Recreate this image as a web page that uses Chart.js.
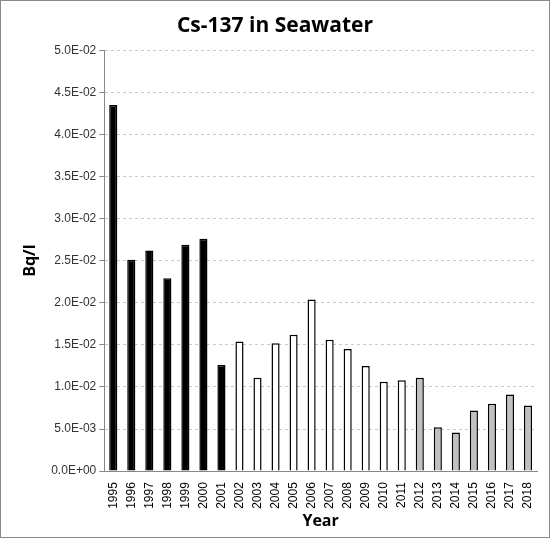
<!DOCTYPE html>
<html>
<head>
<meta charset="utf-8">
<script src="https://cdn.jsdelivr.net/npm/chart.js@4"></script>
<style>
body { margin: 0; background: #fff; }
#wrap { position: absolute; left: 0; top: 0; width: 548px; height: 536px; border: 1px solid #888; }
</style>
</head>
<body>
<div id="wrap"><canvas id="chart"></canvas></div>
<script>
const years = ['1995','1996','1997','1998','1999','2000','2001','2002','2003','2004','2005','2006',
    '2007','2008','2009','2010','2011','2012','2013','2014','2015','2016','2017','2018'];
const values = [0.0435, 0.0251, 0.0262, 0.0229, 0.0269, 0.0276, 0.0126, 0.0154, 0.0111, 0.0152, 0.0162, 0.0204,
    0.0156, 0.0145, 0.0125, 0.0106, 0.0108, 0.0111, 0.0052, 0.0046, 0.0072, 0.0080, 0.0091, 0.0078];
const yTicks = [0, 0.005, 0.01, 0.015, 0.02, 0.025, 0.03, 0.035, 0.04, 0.045, 0.05];

// colour by period
const fills = years.map(y => +y <= 2001 ? '#000000' : (+y <= 2011 ? '#ffffff' : '#c0c0c0'));

function sci(v) {
    if (v === 0) return '0.0E+00';
    const e = Math.floor(Math.log10(v) + 1e-9);
    const m = v / Math.pow(10, e);
    const sign = e < 0 ? '-' : '+';
    return m.toFixed(1) + 'E' + sign + String(Math.abs(e)).padStart(2, '0');
}

const ctx = document.getElementById('chart').getContext('2d');
new Chart(ctx, {
    type: 'bar',
    data: {
        labels: years,
        datasets: [{
            data: values,
            backgroundColor: fills,
            borderColor: '#000',
            borderWidth: 1.5,
            barPercentage: 0.45,
            categoryPercentage: 1
        }]
    },
    options: {
        responsive: true,
        maintainAspectRatio: false,
        animation: false,
        layout: { padding: { left: 12, right: 12, top: 6, bottom: 6 } },
        plugins: {
            legend: { display: false },
            tooltip: { enabled: false },
            title: {
                display: true,
                text: 'Cs-137 in Seawater',
                color: '#000',
                font: { family: 'Open Sans', size: 21, weight: 'bold' },
                padding: { top: 6, bottom: 12 }
            }
        },
        scales: {
            x: {
                grid: { display: false, drawTicks: true },
                border: { color: '#888' },
                ticks: {
                    color: '#000', minRotation: 90, maxRotation: 90, autoSkip: false,
                    font: { family: 'Liberation Sans', size: 12 }
                },
                title: {
                    display: true, text: 'Year', color: '#000',
                    font: { family: 'Open Sans', size: 16, weight: 'bold' }, padding: 0
                }
            },
            y: {
                min: 0, max: 0.05,
                afterBuildTicks: axis => { axis.ticks = yTicks.map(v => ({ value: v })); },
                grid: { color: '#c8c8c8', tickColor: '#888', tickLength: 5 },
                border: { color: '#888', dash: [3, 3] },
                ticks: {
                    color: '#333', callback: v => sci(v),
                    font: { family: 'Liberation Sans', size: 12 }
                },
                title: {
                    display: true, text: 'Bq/l', color: '#000',
                    font: { family: 'Open Sans', size: 16, weight: 'bold' }, padding: 8
                }
            }
        }
    }
});
</script>
</body>
</html>
